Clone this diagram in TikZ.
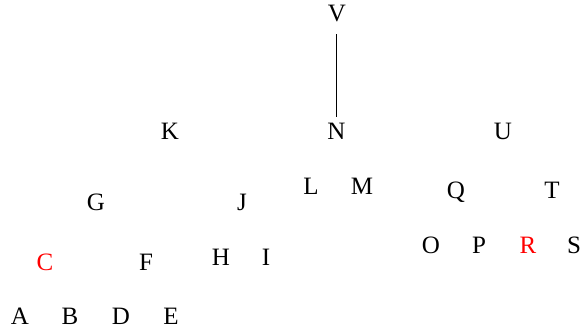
\documentclass[tikz,border=0pt]{standalone}
\usepackage{fontspec}
\setmainfont{Liberation Serif}
\begin{document}
\begin{tikzpicture}[x=1pt,y=-1pt,
  lbl/.style={inner sep=0pt,text height=16.5pt,text depth=0pt,font=\fontsize{25}{29}\selectfont},
  hl/.style={lbl,text=red}]
\useasboundingbox (0,0) rectangle (584,333);
\node[lbl] (V) at (336.8,13.5) {V};
\node[lbl] (K) at (170,131.5) {K};
\node[lbl] (N) at (336.5,131.5) {N};
\node[lbl] (U) at (503,131.5) {U};
\node[lbl] (G) at (96,202) {G};
\node[lbl] (J) at (242,202) {J};
\node[lbl] (L) at (311,186) {L};
\node[lbl] (M) at (362,186) {M};
\node[lbl] (Q) at (456,190) {Q};
\node[lbl] (T) at (552,190) {T};
\node[hl] (C) at (45,262) {C};
\node[lbl] (F) at (146,262) {F};
\node[lbl] (H) at (221,257) {H};
\node[lbl] (I) at (266,257) {I};
\node[lbl] (O) at (431,245) {O};
\node[lbl] (P) at (479,245) {P};
\node[hl] (R) at (528,245) {R};
\node[lbl] (S) at (574,245) {S};
\node[lbl] (A) at (20,316) {A};
\node[lbl] (B) at (70,316) {B};
\node[lbl] (D) at (121,316) {D};
\node[lbl] (E) at (171,316) {E};
\draw[line width=0.8pt] ([yshift=-12.5pt]V.south) -- ([yshift=6.5pt]V.south |- N.north);
\end{tikzpicture}
\end{document}
